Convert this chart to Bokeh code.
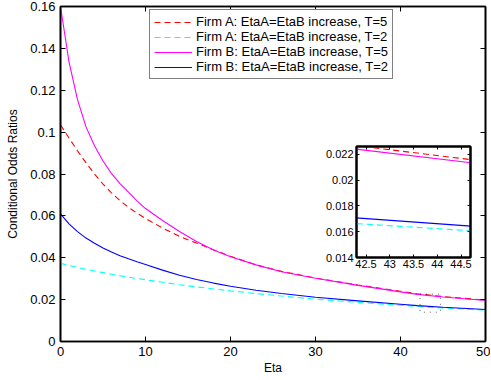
from bokeh.plotting import figure
from bokeh.models import (LinearAxis, Range1d, Legend, LegendItem, FixedTicker,
                          CustomJSTickFormatter)
from bokeh.layouts import column
from bokeh.embed import file_html
from bokeh.resources import INLINE

# ---------------- data ----------------
eta = [0, 1, 2, 3, 4, 5, 6, 7, 8, 9, 10, 12, 14, 16, 18, 20, 23, 26, 30, 35, 40, 42, 45, 50]
firm_a_t5 = [0.1035, 0.0972, 0.0911, 0.0853, 0.0800, 0.0752, 0.0710, 0.0673, 0.0641, 0.0613,
             0.0588, 0.0542, 0.0502, 0.0470, 0.0438, 0.0407, 0.0366, 0.0335, 0.0303, 0.0270,
             0.0240, 0.0228, 0.02145, 0.0198]
firm_a_t2 = [0.0373, 0.0363, 0.0354, 0.0345, 0.0337, 0.0329, 0.0321, 0.0314, 0.0307, 0.0301,
             0.0295, 0.0283, 0.0271, 0.0261, 0.0251, 0.0242, 0.0229, 0.0217, 0.0202, 0.0187,
             0.0173, 0.0167, 0.0160, 0.0150]
firm_b_t5 = [0.1600, 0.1335, 0.1155, 0.1025, 0.0935, 0.0862, 0.0802, 0.0754, 0.0713, 0.0672,
             0.0635, 0.0578, 0.0525, 0.0478, 0.0437, 0.0405, 0.0366, 0.0333, 0.0302, 0.0268,
             0.0237, 0.02252, 0.02122, 0.0196]
firm_b_t2 = [0.0610, 0.0562, 0.0525, 0.0494, 0.0469, 0.0447, 0.0427, 0.0410, 0.0395, 0.0381,
             0.0368, 0.0341, 0.0316, 0.0296, 0.0279, 0.0264, 0.0245, 0.0229, 0.0211, 0.0194,
             0.0178, 0.01715, 0.01635, 0.0153]
series_labels = ["Firm A: EtaA=EtaB increase, T=5",
                 "Firm A: EtaA=EtaB increase, T=2",
                 "Firm B: EtaA=EtaB increase, T=5",
                 "Firm B: EtaA=EtaB increase, T=2"]
x_ticks = [0, 10, 20, 30, 40, 50]
y_ticks = [0, 0.02, 0.04, 0.06, 0.08, 0.1, 0.12, 0.14, 0.16]
x_label = "Eta"
y_label = "Conditional Odds Ratios"
inset_xlim = [42.3, 44.7]
inset_ylim = [0.014, 0.0226]
inset_x_ticks = [42.5, 43, 43.5, 44, 44.5]
inset_y_ticks = [0.014, 0.016, 0.018, 0.02, 0.022]

FONT = "Liberation Sans"
fmt_code = "return String(Number(tick.toFixed(4)));"

series = [
    (firm_a_t5, "#ff0000", "6 4"),
    (firm_a_t2, "#00ffff", "6 4"),
    (firm_b_t5, "#ff00ff", "solid"),
    (firm_b_t2, "#0000ff", "solid"),
]


def style_axes(fig, xt, yt, label_size, tick_len, frame_w):
    for ax in fig.xaxis + fig.yaxis:
        ax.axis_line_color = "black"
        ax.axis_line_width = frame_w
        ax.major_tick_in = tick_len
        ax.major_tick_out = 0
        ax.major_tick_line_color = "black"
        ax.minor_tick_line_color = None
        ax.major_label_text_font = FONT
        ax.major_label_text_font_size = label_size
        ax.major_label_text_color = "black"
        ax.formatter = CustomJSTickFormatter(code=fmt_code)
    fig.xaxis.ticker = FixedTicker(ticks=xt)
    fig.yaxis.ticker = FixedTicker(ticks=yt)
    fig.xgrid.visible = False
    fig.ygrid.visible = False
    fig.outline_line_color = "black"
    fig.outline_line_width = frame_w


def box_ticks(fig, xt, yt, tick_len, frame_w):
    # inward ticks on the top and right edges (MATLAB "box on"), no labels
    top = LinearAxis(ticker=FixedTicker(ticks=xt))
    right = LinearAxis(ticker=FixedTicker(ticks=yt))
    for ax in (top, right):
        ax.formatter = CustomJSTickFormatter(code="return '';")
        ax.major_label_text_font_size = "1px"
        ax.major_label_standoff = 0
        ax.major_tick_in = tick_len
        ax.major_tick_out = 0
        ax.minor_tick_line_color = None
        ax.axis_line_color = "black"
        ax.axis_line_width = frame_w
        ax.major_tick_line_color = "black"
    fig.add_layout(top, "above")
    fig.add_layout(right, "right")


# ---------------- main figure ----------------
xr_main, yr_main = (0, 50), (0, 0.16)
p = figure(width=490, height=378, x_range=Range1d(*xr_main), y_range=Range1d(*yr_main),
           output_backend="svg", toolbar_location=None,
           min_border_left=60, min_border_right=5, min_border_top=6, min_border_bottom=37,
           background_fill_color="white", border_fill_color="white")
style_axes(p, x_ticks, y_ticks, "13px", 5, 1.6)
xa, ya = p.below[0], p.left[0]
xa.major_label_standoff = 5
ya.major_label_standoff = 5
xa.axis_label = x_label
ya.axis_label = y_label
for ax in (xa, ya):
    ax.axis_label_text_font = FONT
    ax.axis_label_text_font_size = "12px"
    ax.axis_label_text_font_style = "normal"
    ax.axis_label_text_color = "black"
xa.axis_label_standoff = 2
ya.axis_label_standoff = 7
box_ticks(p, x_ticks, y_ticks, 5, 1.6)

renderers = []
for ys, col, dash in series:
    r = p.line(eta, ys, line_color=col, line_width=1.1, line_dash=dash)
    renderers.append(r)

# zoom-region marker
p.quad(left=[inset_xlim[0]], right=[inset_xlim[1]], bottom=[inset_ylim[0]], top=[inset_ylim[1]],
       fill_alpha=0, line_color="black", line_width=1, line_dash="1 5", line_alpha=0.6)

legend = Legend(items=[LegendItem(label=lab, renderers=[r]) for lab, r in zip(series_labels, renderers)],
                location=(89, 262))
legend.label_text_font = FONT
legend.label_text_font_size = "13px"
legend.label_text_color = "black"
legend.glyph_width = 38
legend.glyph_height = 12
legend.label_height = 12
legend.label_standoff = 4
legend.spacing = 0
legend.padding = 4
legend.margin = 0
legend.border_line_color = "black"
legend.border_line_width = 1.2
legend.background_fill_color = "white"
legend.background_fill_alpha = 1
p.add_layout(legend)

# ---------------- inset ----------------
ins = figure(width=179, height=132, x_range=Range1d(*inset_xlim), y_range=Range1d(*inset_ylim),
             output_backend="svg", toolbar_location=None,
             min_border_left=34, min_border_right=3, min_border_top=3, min_border_bottom=18,
             background_fill_color="white", border_fill_alpha=0,
             margin=(-235, 0, 0, 296))
style_axes(ins, inset_x_ticks, inset_y_ticks, "11px", 3, 2)
ins.below[0].major_label_standoff = 2
ins.left[0].major_label_standoff = 3
box_ticks(ins, inset_x_ticks, inset_y_ticks, 3, 2)
for ys, col, dash in series:
    ins.line(eta, ys, line_color=col, line_width=1.1, line_dash=dash)

layout = column(p, ins)

open("out.html", "w").write(file_html(layout, INLINE))
